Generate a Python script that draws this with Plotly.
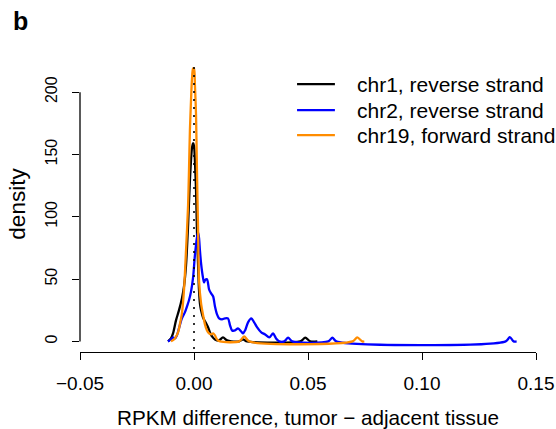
import plotly.graph_objects as go

# chr1, reverse strand (black)
chr1_x = [-0.0114, -0.0101, -0.0092, -0.0079, -0.0066, -0.0053, -0.0044, -0.0035, -0.0026, -0.0018,
          -0.0009, -0.0004, 0.0, 0.0004, 0.0009, 0.0013, 0.0018, 0.0022, 0.0026, 0.0031,
          0.0040, 0.0053, 0.0062, 0.0070, 0.0079, 0.0092, 0.0110, 0.0127, 0.0145, 0.0163,
          0.0198, 0.0215, 0.0233, 0.0466, 0.0488, 0.0510, 0.0541]
chr1_y = [0, 2.4, 6.4, 16.9, 24.9, 34.5, 44, 61, 93, 129,
          155, 159, 157, 145, 121, 89, 61, 41, 30.5, 25,
          19, 14.5, 11.2, 7.2, 4, 1.6, 0.8, 3.2, 0.8, 0,
          0, 1.6, 0, 0, 3, 0, 0]

# chr2, reverse strand (blue)
chr2_x = [-0.0114, -0.0101, -0.0092, -0.0084, -0.0075, -0.0066, -0.0053, -0.0040, -0.0031, -0.0022,
          -0.0013, -0.0004, 0.0004, 0.0013, 0.0018, 0.0022, 0.0026, 0.0031, 0.0040, 0.0044,
          0.0048, 0.0057, 0.0066, 0.0075, 0.0084, 0.0092, 0.0101, 0.0110, 0.0123, 0.0136,
          0.0149, 0.0158, 0.0167, 0.0180, 0.0193, 0.0207, 0.0215, 0.0224, 0.0237, 0.0251,
          0.0264, 0.0277, 0.0295, 0.0312, 0.0330, 0.0347, 0.0360, 0.0374, 0.0396, 0.0413,
          0.0431, 0.0589, 0.0607, 0.0624, 0.1367, 0.1385, 0.1402, 0.1415]
chr2_y = [0, 1.6, 3.2, 2.4, 4.8, 10.4, 18.5, 23.3, 28, 33,
          40, 51.4, 69, 83.5, 87.6, 83, 73, 62.7, 50.6, 47.4,
          49, 49.8, 41.8, 38.5, 36, 28, 21.7, 18.5, 17.7, 18.5,
          18.5, 12.9, 8.8, 8.8, 10.4, 8, 6.4, 8.8, 15.3, 18.5,
          15.3, 11.2, 7.2, 5.6, 3.2, 6.4, 2.4, 0, 0, 3.0,
          0, 0, 3.0, 0, 0, 3.5, 0, 0]

# chr19, forward strand (orange)
chr19_x = [-0.0101, -0.0084, -0.0070, -0.0062, -0.0053, -0.0044, -0.0035, -0.0026, -0.0022, -0.0018,
           -0.0013, -0.0009, -0.0004, 0.0, 0.0004, 0.0009, 0.0013, 0.0018, 0.0022, 0.0031,
           0.0040, 0.0048, 0.0057, 0.0066, 0.0075, 0.0084, 0.0092, 0.0101, 0.0114, 0.0198,
           0.0220, 0.0242, 0.0695, 0.0716, 0.0738, 0.0747]
chr19_y = [0, 2.4, 7.2, 13.7, 22.5, 41, 73, 109, 137, 169,
           194, 210, 219, 219, 206, 181, 137, 89, 49, 30.5,
           21, 13.7, 8.8, 6.4, 5.6, 6.4, 4.8, 1.6, 0, 0,
           4, 0, 0, 3.2, 0, 0]

series_names = ["chr1, reverse strand", "chr2, reverse strand", "chr19, forward strand"]
series_colors = ["#000000", "#0000FF", "#FF8C00"]

x_ticks = [-0.05, 0.0, 0.05, 0.10, 0.15]
x_tick_labels = ["\u22120.05", "0.00", "0.05", "0.10", "0.15"]
y_ticks = [0, 50, 100, 150, 200]
y_tick_labels = ["0", "50", "100", "150", "200"]

FONT = "Liberation Sans, Arial, Helvetica, sans-serif"

fig = go.Figure()
for xs, ys, name, col in zip([chr1_x, chr2_x, chr19_x], [chr1_y, chr2_y, chr19_y],
                             series_names, series_colors):
    fig.add_trace(go.Scatter(x=xs, y=ys, mode="lines", name=name, showlegend=False,
                             line=dict(color=col, width=2.3, shape="spline", smoothing=0.8)))

# dotted vertical line at 0
fig.add_shape(type="line", xref="x", yref="paper", x0=0, x1=0, y0=0.01, y1=0.98,
              line=dict(color="black", width=1.6, dash="2px,6px"))
# y axis line (R-style, only over tick range)
fig.add_shape(type="line", xref="paper", yref="y", x0=0, x1=0, y0=y_ticks[0], y1=y_ticks[-1],
              line=dict(color="black", width=1.3))

# legend (R-style) drawn with shapes + annotations
leg_y = [0.905, 0.817, 0.733]
for name, col, ly in zip(series_names, series_colors, leg_y):
    fig.add_shape(type="line", xref="paper", yref="paper", x0=0.476, x1=0.559, y0=ly, y1=ly,
                  line=dict(color=col, width=2.3))
    fig.add_annotation(text=name, xref="paper", yref="paper", x=0.603, y=ly,
                       xanchor="left", yanchor="middle", showarrow=False,
                       font=dict(size=21, family=FONT, color="black"))

fig.add_annotation(text="<b>b</b>", xref="paper", yref="paper", x=-0.152, y=1.118,
                   xanchor="left", yanchor="middle", showarrow=False,
                   font=dict(size=25, family=FONT, color="black"))

fig.update_layout(
    width=556, height=429,
    margin=dict(l=80, r=20, t=56, b=77, autoexpand=False),
    paper_bgcolor="white", plot_bgcolor="white",
    font=dict(family=FONT, size=16, color="black"),
    showlegend=False,
    xaxis=dict(range=[-0.05, 0.15], showgrid=False, zeroline=False, automargin=False,
               showline=True, linecolor="black", linewidth=1.3,
               ticks="outside", ticklen=7, tickwidth=1.3, tickcolor="black",
               tickvals=x_ticks, ticktext=x_tick_labels, ticklabelstandoff=7,
               tickfont=dict(size=19),
               title=dict(text="RPKM difference, tumor \u2212 adjacent tissue", standoff=18,
                          font=dict(size=20.7))),
    yaxis=dict(range=[-8.5, 229], showgrid=False, zeroline=False, showline=False, automargin=False,
               ticks="outside", ticklen=7, tickwidth=1.3, tickcolor="black",
               tickvals=y_ticks, ticktext=y_tick_labels, tickangle=-90, ticklabelstandoff=9,
               tickfont=dict(size=16),
               title=dict(text="density", standoff=10, font=dict(size=22.5))),
)

fig.write_html("out.html")
